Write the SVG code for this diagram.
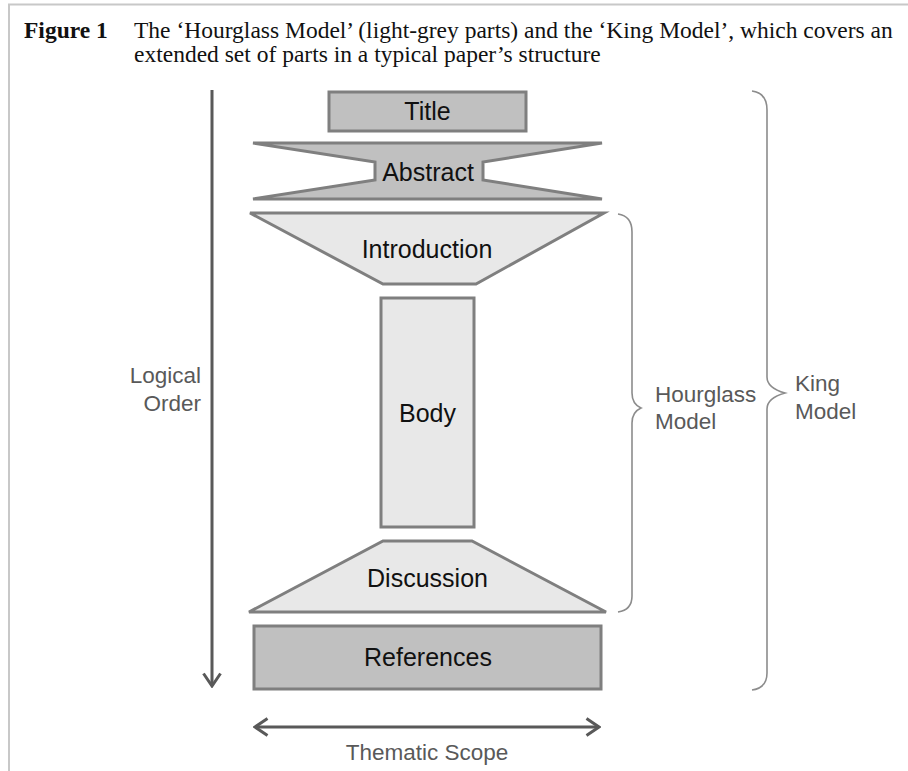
<svg xmlns="http://www.w3.org/2000/svg" width="908" height="771" viewBox="0 0 908 771">
<defs>
<style>
.dark{fill:#c0c0c0;stroke:#7f7f7f;stroke-width:3}
.light{fill:#e8e8e8;stroke:#7f7f7f;stroke-width:3}
.lbl{font-family:"Liberation Sans",Arial,sans-serif;font-size:25px;fill:#111;text-anchor:middle}
.side{font-family:"Liberation Sans",Arial,sans-serif;font-size:22.5px;fill:#595959}
.cap{font-family:"Liberation Serif","Times New Roman",serif;font-size:23.5px;fill:#111}
.arrow{fill:none;stroke:#595959;stroke-width:3}
.brace{fill:none;stroke:#8c8c8c;stroke-width:1.6}
</style>
<marker id="chev" markerUnits="userSpaceOnUse" viewBox="0 0 16 20" refX="14" refY="10" markerWidth="16" markerHeight="20" orient="auto-start-reverse">
<path d="M1.5,1.5 L14,10 L1.5,18.5" fill="none" stroke="#595959" stroke-width="3"/>
</marker>
</defs>
<rect x="0" y="0" width="908" height="771" fill="#fff"/>
<g id="page-border" fill="none" stroke="#c8c8c8" stroke-width="2">
<path d="M9,771 L9,4.5 L908,4.5"/>
</g>
<g id="caption">
<text class="cap" x="24" y="38" font-weight="bold">Figure 1</text>
<text class="cap" x="134" y="38">The ‘Hourglass Model’ (light-grey parts) and the ‘King Model’, which covers an</text>
<text class="cap" x="134" y="62">extended set of parts in a typical paper’s structure</text>
</g>
<g id="title">
<rect class="dark" x="329" y="92" width="197" height="39"/>
<text class="lbl" x="427.5" y="120">Title</text>
</g>
<g id="abstract">
<path class="dark" d="M253,143 L602,143 L483,162 L483,180 L602,199 L253,199 L375,180 L375,162 Z"/>
<text class="lbl" x="428" y="181">Abstract</text>
</g>
<g id="introduction">
<path class="light" d="M250,213 L604,213 L476,284 L383,284 Z"/>
<text class="lbl" x="427" y="258">Introduction</text>
</g>
<g id="body">
<rect class="light" x="381" y="298" width="93" height="229"/>
<text class="lbl" x="427.5" y="422">Body</text>
</g>
<g id="discussion">
<path class="light" d="M383,541 L472,541 L606,612 L249,612 Z"/>
<text class="lbl" x="427.5" y="587">Discussion</text>
</g>
<g id="references">
<rect class="dark" x="254" y="626" width="347" height="63"/>
<text class="lbl" x="428" y="666">References</text>
</g>
<g id="connectors">
<line class="arrow" x1="212" y1="90" x2="212" y2="686" marker-end="url(#chev)"/>
<line class="arrow" x1="255" y1="727" x2="599" y2="727" marker-start="url(#chev)" marker-end="url(#chev)"/>
<path class="brace" d="M618,214 Q632,216 632,232 L632,393 Q632,404 641,408 Q632,412 632,423 L632,596 Q632,610 618,612"/>
<path class="brace" d="M752,91 Q767,93 767,110 L767,377 Q767,388 785,393 Q767,398 767,409 L767,673 Q767,688 752,690"/>
</g>
<g id="labels">
<text class="side" x="201" y="383" text-anchor="end">Logical</text>
<text class="side" x="201" y="411" text-anchor="end">Order</text>
<text class="side" x="655" y="402">Hourglass</text>
<text class="side" x="655" y="429">Model</text>
<text class="side" x="795" y="391">King</text>
<text class="side" x="795" y="419">Model</text>
<text class="side" x="427" y="760" text-anchor="middle">Thematic Scope</text>
</g>
</svg>
